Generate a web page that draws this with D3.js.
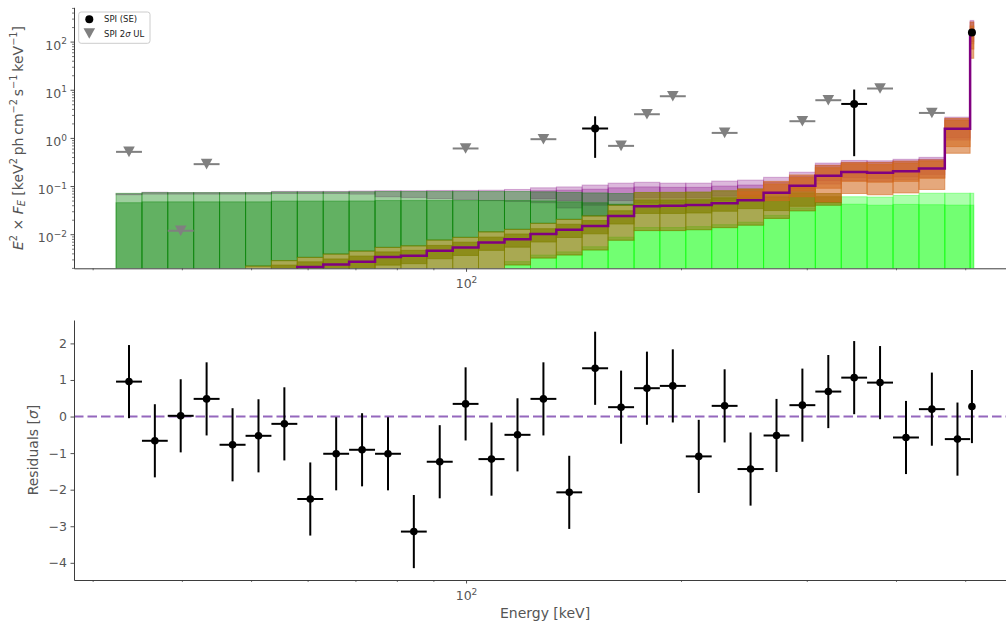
<!DOCTYPE html>
<html>
<head>
<meta charset="utf-8">
<script src="https://cdn.jsdelivr.net/npm/d3@7"></script>
<style>
  body { margin: 0; background: #fff; }
  svg text { font-family: "DejaVu Sans", sans-serif; }
</style>
</head>
<body>
<svg id="chart" width="1006" height="626"></svg>
<script>
// ---------- data ----------
// energy bin edges [keV]; the last bin is the narrow 511 keV line bin
const binEdges = [32.35, 35.17, 38.22, 41.55, 45.17, 49.12, 53.39, 58.04, 63.10, 68.59,
  74.57, 81.06, 88.10, 95.79, 104.1, 113.2, 123.1, 133.8, 145.4, 158.1,
  171.9, 186.8, 203.1, 220.8, 240.0, 261.0, 283.7, 308.4, 335.3, 364.4,
  396.2, 430.7, 468.2, 508.0, 514.0];

// model median (step line)
const totalMedian = [0.0009, 0.0010, 0.0011, 0.0012, 0.0013, 0.0015, 0.0018, 0.00208, 0.00234, 0.00267,
  0.00335, 0.00356, 0.00453, 0.00528, 0.00676, 0.00784, 0.01005, 0.01245, 0.01486, 0.02376,
  0.0383, 0.0392, 0.0402, 0.0442, 0.0510, 0.0729, 0.1019, 0.163, 0.197, 0.188,
  0.204, 0.232, 1.54, 148];

// total model credible bands
const purpleOuterLo = [0.066, 0.068, 0.068, 0.068, 0.068, 0.068, 0.070, 0.070, 0.070, 0.068,
  0.060, 0.058, 0.055, 0.052, 0.050, 0.048, 0.045, 0.035, 0.024, 0.040,
  0.045, 0.045, 0.046, 0.050, 0.055, 0.060, 0.075, 0.110, 0.130, 0.125,
  0.135, 0.150, 0.90, 90];
const purpleOuterHi = [0.069, 0.0745, 0.073, 0.073, 0.073, 0.073, 0.0775, 0.0775, 0.0775, 0.079,
  0.080, 0.080, 0.081, 0.081, 0.082, 0.085, 0.092, 0.096, 0.105, 0.115,
  0.120, 0.115, 0.115, 0.127, 0.133, 0.152, 0.194, 0.300, 0.340, 0.335,
  0.360, 0.395, 2.70, 275];
const purpleInnerLo = [null, null, null, null, null, null, null, null, null, null,
  null, null, null, null, null, null, 0.055, 0.050, 0.040, 0.050,
  0.058, 0.058, 0.058, 0.062, 0.066, 0.075, 0.090, 0.130, 0.150, 0.145,
  0.155, 0.175, 1.00, 100];
const purpleInnerHi = [null, null, null, null, null, null, null, null, null, null,
  null, null, null, null, null, null, 0.080, 0.082, 0.086, 0.092,
  0.096, 0.094, 0.094, 0.100, 0.105, 0.120, 0.160, 0.270, 0.310, 0.310,
  0.330, 0.360, 2.50, 255];

// flat continuum component (stacked on top of the positronium band)
const greenOuterHi = [0.0706, 0.073, 0.073, 0.073, 0.073, 0.073, 0.0755, 0.0755, 0.0755, 0.076,
  0.077, 0.077, 0.077, 0.077, 0.077, 0.077, 0.076, 0.074, 0.072, 0.070,
  null, null, null, null, null, null, null, null, null, null,
  null, null, null, null];
const greenInnerHi = [0.0451, 0.047, 0.047, 0.047, 0.047, 0.047, 0.0487, 0.0487, 0.0487, 0.049,
  0.050, 0.050, 0.050, 0.050, 0.050, 0.050, 0.049, 0.047, 0.045, 0.042,
  null, null, null, null, null, null, null, null, null, null,
  null, null, null, null];

// rising continuum component (bands reach down to zero)
const limeOuterHi = [null, null, null, null, null, null, null, null, null, null,
  null, null, null, null, null, 0.0027, 0.0037, 0.0043, 0.0055, 0.0087,
  0.0138, 0.0138, 0.0144, 0.0158, 0.0178, 0.0246, 0.0352, 0.046, 0.060, 0.059,
  0.064, 0.071, 0.071, 0.071];
const limeInnerHi = [null, null, null, null, null, null, null, null, null, null,
  null, null, null, null, null, 0.0023, 0.0032, 0.0037, 0.0047, 0.0075,
  0.0119, 0.0119, 0.0124, 0.0137, 0.0154, 0.0213, 0.0306, 0.040, 0.042, 0.040,
  0.0416, 0.041, 0.0402, 0.0402];

// positronium continuum component (stacked on the rising continuum)
const oliveOuterLo = [null, null, null, null, null, 0.00054, 0.00067, 0.00079, 0.00090, 0.00104,
  0.00127, 0.00137, 0.00150, 0.00170, 0.00190, 0.0023, 0.0032, 0.0037, 0.0047, 0.0075,
  0.0119, 0.0119, 0.0124, 0.0137, 0.0154, 0.0213, 0.0306, 0.040, null, null,
  null, null, null, null];
const oliveInnerLo = [null, null, null, null, null, 0.00097, 0.00121, 0.00141, 0.00162, 0.00186,
  0.00228, 0.00245, 0.00310, 0.00362, 0.00462, 0.00538, 0.0069, 0.00855, 0.0102, 0.0163,
  0.027, 0.027, 0.0276, 0.030, 0.034, 0.031, 0.038, 0.045, null, null,
  null, null, null, null];
const oliveInnerHi = [null, null, null, null, null, 0.00182, 0.00228, 0.00267, 0.00306, 0.00351,
  0.00429, 0.00462, 0.00585, 0.00683, 0.00871, 0.0101, 0.0130, 0.0161, 0.0192, 0.0307,
  0.051, 0.051, 0.052, 0.057, 0.064, 0.059, 0.072, 0.060, null, null,
  null, null, null, null];
const oliveOuterHi = [null, null, null, null, null, 0.00218, 0.00283, 0.00330, 0.00387, 0.00446,
  0.00532, 0.00574, 0.00755, 0.00859, 0.0112, 0.0126, 0.0168, 0.0203, 0.0240, 0.040,
  0.0736, 0.074, 0.075, 0.080, 0.087, 0.075, 0.092, 0.070, null, null,
  null, null, null, null];

// annihilation line / high-energy component
const orangeOuterLo = [null, null, null, null, null, null, null, null, null, null,
  null, null, null, null, null, null, null, null, null, null,
  null, null, null, null, 0.050, 0.050, 0.060, 0.047, 0.070, 0.066,
  0.072, 0.085, 0.48, 45];
const orangeInnerLo = [null, null, null, null, null, null, null, null, null, null,
  null, null, null, null, null, null, null, null, null, null,
  null, null, null, null, 0.060, 0.070, 0.080, 0.090, 0.125, 0.120,
  0.125, 0.145, 0.66, 70];
const orangeInnerHi = [null, null, null, null, null, null, null, null, null, null,
  null, null, null, null, null, null, null, null, null, null,
  null, null, null, null, 0.076, 0.110, 0.150, 0.240, 0.290, 0.280,
  0.300, 0.330, 2.30, 210];
const orangeOuterHi = [null, null, null, null, null, null, null, null, null, null,
  null, null, null, null, null, null, null, null, null, null,
  null, null, null, null, 0.086, 0.125, 0.170, 0.270, 0.310, 0.310,
  0.330, 0.350, 2.55, 255];

// SPI detections (bin index, value, lower, upper)
const seBins = [18, 28, 33];
const seValues = [1.567, 5.07, 153.8];
const seLower = [0.385, 0.417, 140];
const seUpper = [2.81, 10.1, 168];

// SPI 2-sigma upper limits
const ulBins = [0, 2, 3, 13, 16, 19, 20, 21, 23, 26, 27, 29, 31];
const ulValues = [0.513, 0.0118, 0.285, 0.603, 0.940, 0.683, 3.10, 7.33, 1.27, 2.22, 6.06, 10.6, 3.30];

// residuals [sigma]
const residuals = [0.955, -0.663, 0.02, 0.483, -0.772, -0.527, -0.2, -2.255, -1.018, -0.909,
  -1.018, -3.146, -1.236, 0.346, -1.164, -0.5, 0.483, -2.073, 1.32, 0.256,
  0.775, 0.838, -1.09, 0.292, -1.436, -0.518, 0.311, 0.683, 1.064, 0.928,
  -0.573, 0.202, -0.617, 0.273];
const residualErr = [1, 1, 1, 1, 1, 1, 1, 1, 1, 1, 1, 1, 1, 1, 1, 1, 1, 1, 1, 1,
  1, 1, 1, 1, 1, 1, 1, 1, 1, 1, 1, 1, 1, 1];

const topMajorTicks = [0.01, 0.1, 1, 10, 100];
const topTickExps = ["\u22122", "\u22121", "0", "1", "2"];
const resTicks = [-4, -3, -2, -1, 0, 1, 2];
const xMajorTicks = [100];
const xMinorTicks = [30, 40, 50, 60, 70, 80, 90, 200, 300, 400, 500];

// ---------- layout ----------
const svg = d3.select("#chart");
const plotL = 74, plotR = 1016;
const topY0 = 7.3, topY1 = 268.3;
const botY0 = 320, botY1 = 580;
const axisColor = "#3d3d3d";
const textColor = "#555555";

const x = d3.scaleLog().domain([28.25, 589]).range([plotL, plotR]);
const yTop = d3.scaleLog().domain([0.00196, 515]).range([topY1, topY0]);
const yRes = d3.scaleLinear().domain([-4.47, 2.64]).range([botY1, botY0]);

svg.append("defs").append("clipPath").attr("id", "clipTop")
  .append("rect").attr("x", plotL).attr("y", topY0)
  .attr("width", plotR - plotL).attr("height", topY1 - topY0);

const gTop = svg.append("g").attr("clip-path", "url(#clipTop)");

// one credible band of one component, drawn as per-bin bars;
// a missing lower bound means the bar starts at zero flux
function bandLayer(lo, hi, color, op) {
  const idx = d3.range(hi.length).filter(i => hi[i] != null);
  gTop.append("g").selectAll("rect").data(idx).join("rect")
    .attr("x", i => x(binEdges[i]))
    .attr("width", i => x(binEdges[i + 1]) - x(binEdges[i]))
    .attr("y", i => yTop(hi[i]))
    .attr("height", i => (lo == null || lo[i] == null ? topY1 + 6 : yTop(lo[i])) - yTop(hi[i]))
    .attr("fill", color).attr("fill-opacity", op)
    .attr("stroke", color).attr("stroke-opacity", op).attr("stroke-width", 1);
}

bandLayer(purpleOuterLo, purpleOuterHi, "#800080", 0.28);
bandLayer(purpleInnerLo, purpleInnerHi, "#800080", 0.28);
// the flat continuum sits on top of the positronium band
bandLayer(oliveOuterHi, greenOuterHi, "#008000", 0.38);
bandLayer(oliveOuterHi, greenInnerHi, "#008000", 0.38);
bandLayer(null, limeOuterHi, "#00ff00", 0.33);
bandLayer(null, limeInnerHi, "#00ff00", 0.33);
bandLayer(oliveOuterLo, oliveOuterHi, "#808000", 0.68);
bandLayer(oliveInnerLo, oliveInnerHi, "#808000", 0.68);
bandLayer(orangeOuterLo, orangeOuterHi, "#d2691e", 0.58);
bandLayer(orangeInnerLo, orangeInnerHi, "#d2691e", 0.58);

// median model as a step line
const stepPts = [];
totalMedian.forEach((v, i) => {
  stepPts.push([x(binEdges[i]), yTop(v)]);
  stepPts.push([x(binEdges[i + 1]), yTop(v)]);
});
gTop.append("path").attr("d", d3.line()(stepPts))
  .attr("fill", "none").attr("stroke", "#800080").attr("stroke-width", 2.5)
  .attr("stroke-linejoin", "miter");

// upper limits
const triPath = "M-5.8,-5.3L5.8,-5.3L0,5.3Z";
const gUL = svg.append("g");
ulBins.forEach((b, k) => {
  const yy = yTop(ulValues[k]);
  gUL.append("line").attr("x1", x(binEdges[b])).attr("x2", x(binEdges[b + 1]))
    .attr("y1", yy).attr("y2", yy).attr("stroke", "#808080").attr("stroke-width", 2);
  gUL.append("path").attr("d", triPath)
    .attr("transform", `translate(${x(Math.sqrt(binEdges[b] * binEdges[b + 1]))},${yy})`)
    .attr("fill", "#808080");
});

// detections
const gSE = svg.append("g");
seBins.forEach((b, k) => {
  const xc = x(Math.sqrt(binEdges[b] * binEdges[b + 1]));
  const yy = yTop(seValues[k]);
  gSE.append("line").attr("x1", x(binEdges[b])).attr("x2", x(binEdges[b + 1]))
    .attr("y1", yy).attr("y2", yy).attr("stroke", "#000").attr("stroke-width", 2);
  gSE.append("line").attr("x1", xc).attr("x2", xc)
    .attr("y1", yTop(seUpper[k])).attr("y2", yTop(seLower[k]))
    .attr("stroke", "#000").attr("stroke-width", 2);
  gSE.append("circle").attr("cx", xc).attr("cy", yy).attr("r", 4).attr("fill", "#000");
});

// ---------- residual panel ----------
svg.append("line").attr("x1", plotL).attr("x2", plotR)
  .attr("y1", yRes(0)).attr("y2", yRes(0))
  .attr("stroke", "#9467bd").attr("stroke-width", 2).attr("stroke-dasharray", "9.5,4");

const gRes = svg.append("g");
residuals.forEach((r, i) => {
  const xc = x(Math.sqrt(binEdges[i] * binEdges[i + 1]));
  const yy = yRes(r);
  gRes.append("line").attr("x1", x(binEdges[i])).attr("x2", x(binEdges[i + 1]))
    .attr("y1", yy).attr("y2", yy).attr("stroke", "#000").attr("stroke-width", 2);
  gRes.append("line").attr("x1", xc).attr("x2", xc)
    .attr("y1", yRes(r + residualErr[i])).attr("y2", yRes(r - residualErr[i]))
    .attr("stroke", "#000").attr("stroke-width", 2);
  gRes.append("circle").attr("cx", xc).attr("cy", yy).attr("r", 3.8).attr("fill", "#000");
});

// ---------- axes ----------
function styleAxis(g) {
  g.selectAll("path.domain").attr("stroke", axisColor).attr("stroke-width", 1);
  g.selectAll(".tick line").attr("stroke", axisColor).attr("stroke-width", 0.9);
  g.selectAll(".tick text").attr("fill", textColor).attr("font-size", 12.5)
    .attr("font-family", "DejaVu Sans, sans-serif");
}
function powerLabel(textSel, expOf) {
  textSel.each(function (d, i) {
    const t = d3.select(this);
    const e = expOf(d, i);
    t.text(null);
    t.append("tspan").text("10");
    t.append("tspan").attr("dy", "-5.5").attr("font-size", 9).text(e);
  });
}

// top panel y axis
const gYTop = svg.append("g").attr("transform", `translate(${plotL},0)`)
  .call(d3.axisLeft(yTop).tickValues(topMajorTicks).tickSize(3.5).tickPadding(3.5).tickSizeOuter(0));
styleAxis(gYTop);
powerLabel(gYTop.selectAll(".tick text").attr("dy", "0.62em"), (d, i) => topTickExps[i]);

const minorY = [];
[-3, -2, -1, 0, 1, 2].forEach(k => [2, 3, 4, 5, 6, 7, 8, 9].forEach(m => {
  const v = m * Math.pow(10, k);
  if (v > yTop.domain()[0] && v < yTop.domain()[1]) minorY.push(v);
}));
const gYTopMinor = svg.append("g").attr("transform", `translate(${plotL},0)`)
  .call(d3.axisLeft(yTop).tickValues(minorY).tickSize(2).tickFormat(() => "").tickSizeOuter(0));
gYTopMinor.select("path.domain").remove();
gYTopMinor.selectAll(".tick line").attr("stroke", axisColor).attr("stroke-width", 0.7);

// x axes (both panels)
[topY1, botY1].forEach(yb => {
  const gx = svg.append("g").attr("transform", `translate(0,${yb})`)
    .call(d3.axisBottom(x).tickValues(xMajorTicks).tickSize(3.5).tickPadding(3.5).tickSizeOuter(0));
  styleAxis(gx);
  powerLabel(gx.selectAll(".tick text").attr("dy", "1.05em"), () => "2");
  const gxm = svg.append("g").attr("transform", `translate(0,${yb})`)
    .call(d3.axisBottom(x).tickValues(xMinorTicks).tickSize(2).tickFormat(() => "").tickSizeOuter(0));
  gxm.select("path.domain").remove();
  gxm.selectAll(".tick line").attr("stroke", axisColor).attr("stroke-width", 0.7);
});

// residual y axis
const gYRes = svg.append("g").attr("transform", `translate(${plotL},0)`)
  .call(d3.axisLeft(yRes).tickValues(resTicks).tickSize(3.5).tickPadding(3.5).tickSizeOuter(0)
    .tickFormat(d => d < 0 ? "\u2212" + Math.abs(d) : String(d)));
styleAxis(gYRes);

// ---------- axis labels ----------
function richText(g, parts, size) {
  const t = g.append("text").attr("font-size", size).attr("fill", textColor);
  let shift = 0;
  parts.forEach(p => {
    const s = t.append("tspan").text(p.t);
    let target = 0;
    if (p.s === "sup") { target = -0.42 * size; s.attr("font-size", size * 0.7); }
    if (p.s === "sub") { target = 0.2 * size; s.attr("font-size", size * 0.7); }
    if (p.i) s.attr("font-style", "italic");
    s.attr("dy", target - shift);
    shift = target;
  });
  return t;
}

const yLab = svg.append("g").attr("transform", "translate(22.5,138) rotate(-90)");
richText(yLab, [
  { t: "E", i: true }, { t: "2", s: "sup" }, { t: " \u00d7 " }, { t: "F", i: true }, { t: "E", i: true, s: "sub" },
  { t: " [keV" }, { t: "2", s: "sup" }, { t: "\u2009ph\u2009cm" }, { t: "\u22122", s: "sup" },
  { t: "\u2009s" }, { t: "\u22121", s: "sup" }, { t: "\u2009keV" }, { t: "\u22121", s: "sup" }, { t: "]" }
], 14).attr("text-anchor", "middle");

const rLab = svg.append("g").attr("transform", "translate(38,450) rotate(-90)");
richText(rLab, [{ t: "Residuals [" }, { t: "\u03c3", i: true }, { t: "]" }], 14).attr("text-anchor", "middle");

svg.append("text").attr("x", 545).attr("y", 618).attr("text-anchor", "middle")
  .attr("font-size", 14).attr("fill", textColor).text("Energy [keV]");

// ---------- legend ----------
const gLeg = svg.append("g");
gLeg.append("rect").attr("x", 78.7).attr("y", 12).attr("width", 71.3).attr("height", 31.3)
  .attr("rx", 2.5).attr("fill", "#fff").attr("fill-opacity", 0.8)
  .attr("stroke", "#cccccc").attr("stroke-width", 1);
gLeg.append("circle").attr("cx", 89.3).attr("cy", 19.3).attr("r", 4).attr("fill", "#000");
gLeg.append("path").attr("d", triPath).attr("transform", "translate(89.3,33.5)").attr("fill", "#808080");
gLeg.append("text").attr("x", 104).attr("y", 22.3).attr("font-size", 8.5).attr("fill", "#222").text("SPI (SE)");
const lt = gLeg.append("text").attr("x", 104).attr("y", 36.8).attr("font-size", 8.5).attr("fill", "#222");
lt.append("tspan").text("SPI 2");
lt.append("tspan").attr("font-style", "italic").text("\u03c3");
lt.append("tspan").text(" UL");
</script>
</body>
</html>
